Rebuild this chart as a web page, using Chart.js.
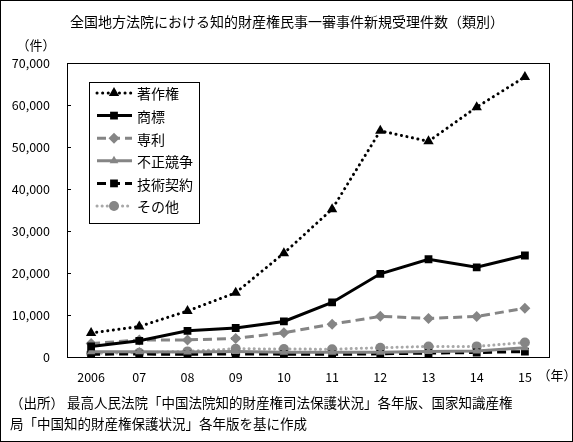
<!DOCTYPE html>
<html>
<head>
<meta charset="utf-8">
<script src="https://cdn.jsdelivr.net/npm/chart.js@4"></script>
<style>
  html, body { margin: 0; padding: 0; background: #fff; }
  #wrap { width: 573px; height: 442px; position: relative; }
</style>
</head>
<body>
<div id="wrap"><canvas id="chart"></canvas></div>
<script>
const years = ['2006', '07', '08', '09', '10', '11', '12', '13', '14', '15'];
const copyright = [5719, 7263, 10951, 15302, 24719, 35185, 53848, 51351, 59493, 66690];
const trademark = [2521, 3855, 6233, 6906, 8460, 12991, 19815, 23272, 21362, 24168];
const patent = [3196, 4041, 4074, 4422, 5785, 7819, 9680, 9195, 9648, 11607];
const unfairComp = [1250, 1250, 1185, 1282, 1131, 1137, 1123, 1302, 1422, 2181];
const techContract = [660, 716, 624, 747, 670, 624, 746, 949, 1071, 1286];
const others = [900, 1000, 1339, 1967, 1900, 1856, 2207, 2514, 2526, 3454];
const yTicks = [0, 10000, 20000, 30000, 40000, 50000, 60000, 70000];

const FONT = '"Noto Sans CJK JP", "Noto Sans", sans-serif';
const GRAY = '#858585';
const LIGHT = '#a8a8a8';

const ctx = document.getElementById('chart');

function ds(label, data, color, dash, width, style, radius, cap, markColor) {
    return {
        label: label,
        data: data,
        borderColor: color,
        backgroundColor: markColor || color,
        pointBackgroundColor: markColor || color,
        borderWidth: width,
        borderDash: dash,
        borderCapStyle: cap || 'butt',
        pointStyle: style,
        pointRadius: radius,
        pointBorderWidth: 0,
        tension: 0
    };
}

// frame, inside tick marks, legend box and loose text
const decor = {
    id: 'decor',
    afterDatasetsDraw(chart) {
        const c = chart.ctx;
        const a = chart.chartArea;
        const y = chart.scales.y;
        c.save();
        c.strokeStyle = '#000';
        c.lineWidth = 1;
        c.strokeRect(Math.round(a.left) + 0.5, Math.round(a.top) + 0.5,
            Math.round(a.right - a.left), Math.round(a.bottom - a.top));
        yTicks.forEach(v => {
            const py = Math.round(y.getPixelForValue(v)) + 0.5;
            c.beginPath();
            c.moveTo(a.left, py);
            c.lineTo(a.left + 4, py);
            c.stroke();
        });

        // legend box
        const lx = 89, ly = 82, lw = 110, lh = 141;
        c.fillStyle = '#fff';
        c.fillRect(lx, ly, lw, lh);
        c.strokeRect(lx + 0.5, ly + 0.5, lw, lh);
        chart.data.datasets.forEach((d, i) => {
            const cy = 93 + i * 22.6;
            c.save();
            c.strokeStyle = d.borderColor;
            c.lineWidth = d.borderWidth;
            c.setLineDash(d.borderDash);
            c.lineCap = d.borderCapStyle;
            c.beginPath();
            c.moveTo(97, cy);
            c.lineTo(132, cy);
            c.stroke();
            c.restore();
            c.fillStyle = d.backgroundColor;
            Chart.helpers.drawPoint(c, {pointStyle: d.pointStyle, radius: d.pointRadius, borderWidth: 0}, 114, cy);
            c.fillStyle = '#000';
            c.font = '14px ' + FONT;
            c.textBaseline = 'middle';
            c.textAlign = 'left';
            c.fillText(d.label, 137, cy + 1);
        });

        c.fillStyle = '#000';
        c.textBaseline = 'middle';
        c.font = '14px ' + FONT;
        c.textAlign = 'center';
        c.fillText('全国地方法院における知的財産権民事一審事件新規受理件数（類別）', 287, 22);
        c.font = '13px ' + FONT;
        c.fillText('（件）', 36, 45);
        c.fillText('（年）', 557, 375);
        c.textAlign = 'left';
        c.font = '13.5px ' + FONT;
        c.fillText('（出所） 最高人民法院「中国法院知的財産権司法保護状況」各年版、国家知識産権', 10, 403);
        c.fillText('局「中国知的財産権保護状況」各年版を基に作成', 10, 424);

        c.strokeRect(0.5, 0.5, chart.width - 1, chart.height - 1);
        c.restore();
    }
};

new Chart(ctx, {
    type: 'line',
    data: {
        labels: years,
        datasets: [
            ds('著作権', copyright, '#000', [0.1, 5.5], 3, 'triangle', 6, 'round'),
            ds('商標', trademark, '#000', [], 3, 'rect', 5.5),
            ds('専利', patent, GRAY, [9, 5], 3, 'rectRot', 5.5),
            ds('不正競争', unfairComp, GRAY, [], 3, 'triangle', 5),
            ds('技術契約', techContract, '#000', [9, 5], 3, 'rect', 5.5),
            ds('その他', others, LIGHT, [0.1, 5], 3, 'circle', 5, 'round', GRAY)
        ]
    },
    options: {
        responsive: true,
        maintainAspectRatio: false,
        animation: false,
        layout: { padding: { left: 0, top: 63, right: 24, bottom: 55 } },
        plugins: {
            legend: { display: false },
            tooltip: { enabled: false }
        },
        scales: {
            x: {
                offset: true,
                grid: { display: false },
                border: { display: false },
                ticks: { color: '#000', font: { family: FONT, size: 12.5 }, padding: 5, maxRotation: 0 },
                afterFit(s) { s.height = 30; }
            },
            y: {
                min: 0,
                max: 70000,
                grid: { display: false },
                border: { display: false },
                afterBuildTicks(s) { s.ticks = yTicks.map(v => ({ value: v })); },
                ticks: {
                    color: '#000',
                    padding: 9,
                    font: { family: FONT, size: 12.5 },
                    callback: v => v.toLocaleString('en-US')
                },
                afterFit(s) { s.width = 67; }
            }
        }
    },
    plugins: [decor]
});
</script>
</body>
</html>
